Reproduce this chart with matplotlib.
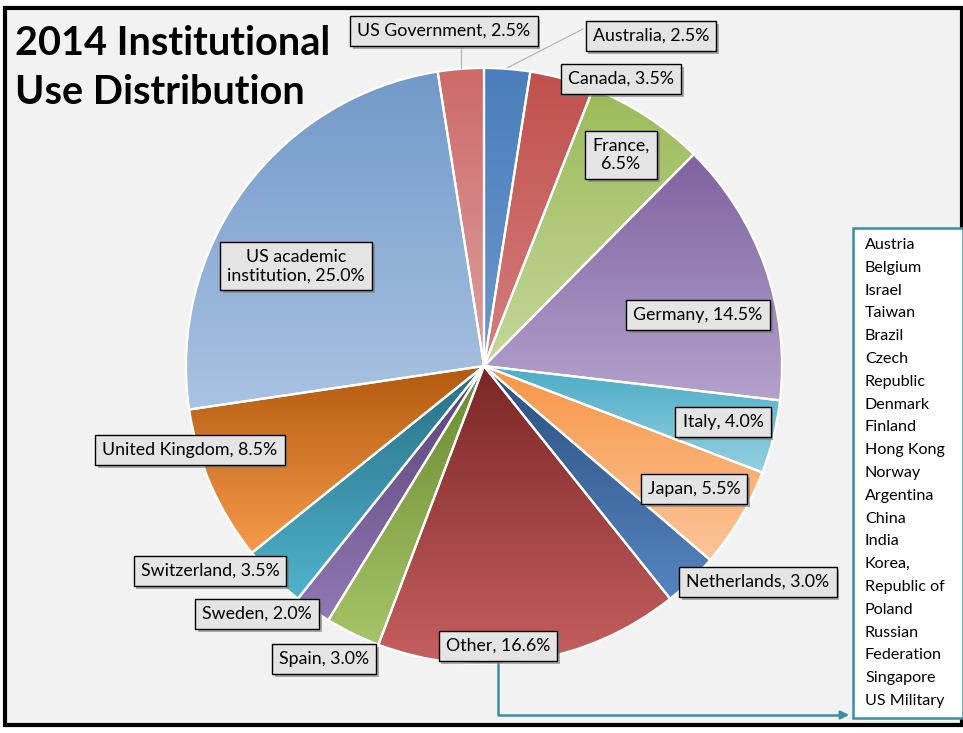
import numpy as np
import matplotlib.pyplot as plt
import matplotlib.patheffects as pe
from matplotlib.colors import to_rgb
from matplotlib.patches import Rectangle, FancyArrowPatch

plt.rcParams['font.family'] = ['Lato', 'DejaVu Sans']

# data (clockwise from 12 o'clock)
countries = ['Australia', 'Canada', 'France', 'Germany', 'Italy', 'Japan',
             'Netherlands', 'Other', 'Spain', 'Sweden', 'Switzerland',
             'United Kingdom', 'US academic institution', 'US Government']
shares = [2.5, 3.5, 6.5, 14.5, 4.0, 5.5, 3.0, 16.6, 3.0, 2.0, 3.5, 8.5, 25.0, 2.5]
other_list = ['Austria', 'Belgium', 'Israel', 'Taiwan', 'Brazil', 'Czech',
              'Republic', 'Denmark', 'Finland', 'Hong Kong', 'Norway',
              'Argentina', 'China', 'India', 'Korea,', 'Republic of', 'Poland',
              'Russian', 'Federation', 'Singapore', 'US Military']

# gradient colours per slice (top -> bottom)
top_cols = ['#4a7ebb', '#c0504d', '#9bbb59', '#7f61a0', '#4bacc6', '#f79646',
            '#2c5080', '#7a2626', '#6a8a30', '#574275', '#276f85', '#b35a0e',
            '#7299c9', '#cd6a68']
bot_cols = ['#6b97cc', '#d4807e', '#c4d79b', '#b3a2cc', '#93d0e0', '#fbc59a',
            '#5585c0', '#c86060', '#a6c468', '#9279b6', '#4fb3cc', '#f79a4c',
            '#a9c3e2', '#dca0a0']

# label text and box centre (pixels from top-left)
labels = ['Australia, 2.5%', 'Canada, 3.5%', 'France,\n6.5%', 'Germany, 14.5%',
          'Italy, 4.0%', 'Japan, 5.5%', 'Netherlands, 3.0%', 'Other, 16.6%',
          'Spain, 3.0%', 'Sweden, 2.0%', 'Switzerland, 3.5%',
          'United Kingdom, 8.5%', 'US academic\ninstitution, 25.0%',
          'US Government, 2.5%']
lab_pos = [(651, 36), (621, 79), (621, 155), (698, 315), (723, 422),
           (694, 489), (758, 582), (498, 646), (324, 659), (257, 614),
           (210, 571), (190, 450), (296, 266), (444, 31)]

W, H = 963, 733
def Y(py):
    return H - py

fig = plt.figure(figsize=(W / 100, H / 100), dpi=100)
fig.patch.set_facecolor('white')
ax = fig.add_axes([0, 0, 1, 1])
ax.axis('off')

ax.add_patch(Rectangle((5, Y(725)), 957, 717, fc='#f2f2f2', ec='black',
                       lw=3, zorder=0))

cx, cy, R = 484, Y(366), 298
wedges, _ = ax.pie(shares, startangle=90, counterclock=False, radius=R,
                   center=(cx, cy), frame=True,
                   wedgeprops=dict(edgecolor='white', linewidth=1.6,
                                   facecolor='none', zorder=3))
for w, c1, c2 in zip(wedges, top_cols, bot_cols):
    v = w.get_path().vertices
    x0, x1 = v[:, 0].min(), v[:, 0].max()
    y0, y1 = v[:, 1].min(), v[:, 1].max()
    t = np.linspace(0, 1, 200)[:, None]
    a, b = np.array(to_rgb(c2)), np.array(to_rgb(c1))
    img = (a + (b - a) * t)[:, None, :]
    im = ax.imshow(img, extent=[x0, x1, y0, y1], origin='lower',
                   interpolation='bilinear', aspect='auto', zorder=2)
    im.set_clip_path(w)

# leader lines
ax.plot([461, 461], [Y(45), Y(68)], color='#b0b0b0', lw=0.8, zorder=4)
ax.plot([583, 507], [Y(29), Y(68)], color='#b0b0b0', lw=0.8, zorder=4)

for txt, (px, py) in zip(labels, lab_pos):
    t = ax.text(px, Y(py), txt, ha='center', va='center', fontsize=12.8,
                color='black', multialignment='center', zorder=6,
                bbox=dict(boxstyle='square,pad=0.4', fc='#e4e4e4', ec='black', lw=1))
    t.get_bbox_patch().set_path_effects(
        [pe.SimplePatchShadow(offset=(2, -2), shadow_rgbFace='#777777', alpha=0.6),
         pe.Normal()])

ax.text(15, Y(25), '2014 Institutional\nUse Distribution', fontsize=28.5,
        fontweight='bold', ha='left', va='top', linespacing=1.4, zorder=6)

# box listing the "Other" countries
teal = '#3b8ea5'
ax.add_patch(Rectangle((853, Y(718)), 110, 490, fc='white', ec=teal, lw=1.8, zorder=4))
for i, name in enumerate(other_list):
    ax.text(865, Y(245 + i * 22.8), name, fontsize=11.6, ha='left', va='center', zorder=5)

ax.plot([498, 498, 843], [Y(660), Y(715), Y(715)], color=teal, lw=1.8, zorder=4)
ax.add_patch(FancyArrowPatch((838, Y(715)), (852, Y(715)), arrowstyle='-|>',
                             mutation_scale=12, color=teal, lw=1.8, zorder=4))

ax.set_xlim(0, W)
ax.set_ylim(0, H)
ax.set_aspect('auto')
fig.savefig('out.png', dpi=100)
